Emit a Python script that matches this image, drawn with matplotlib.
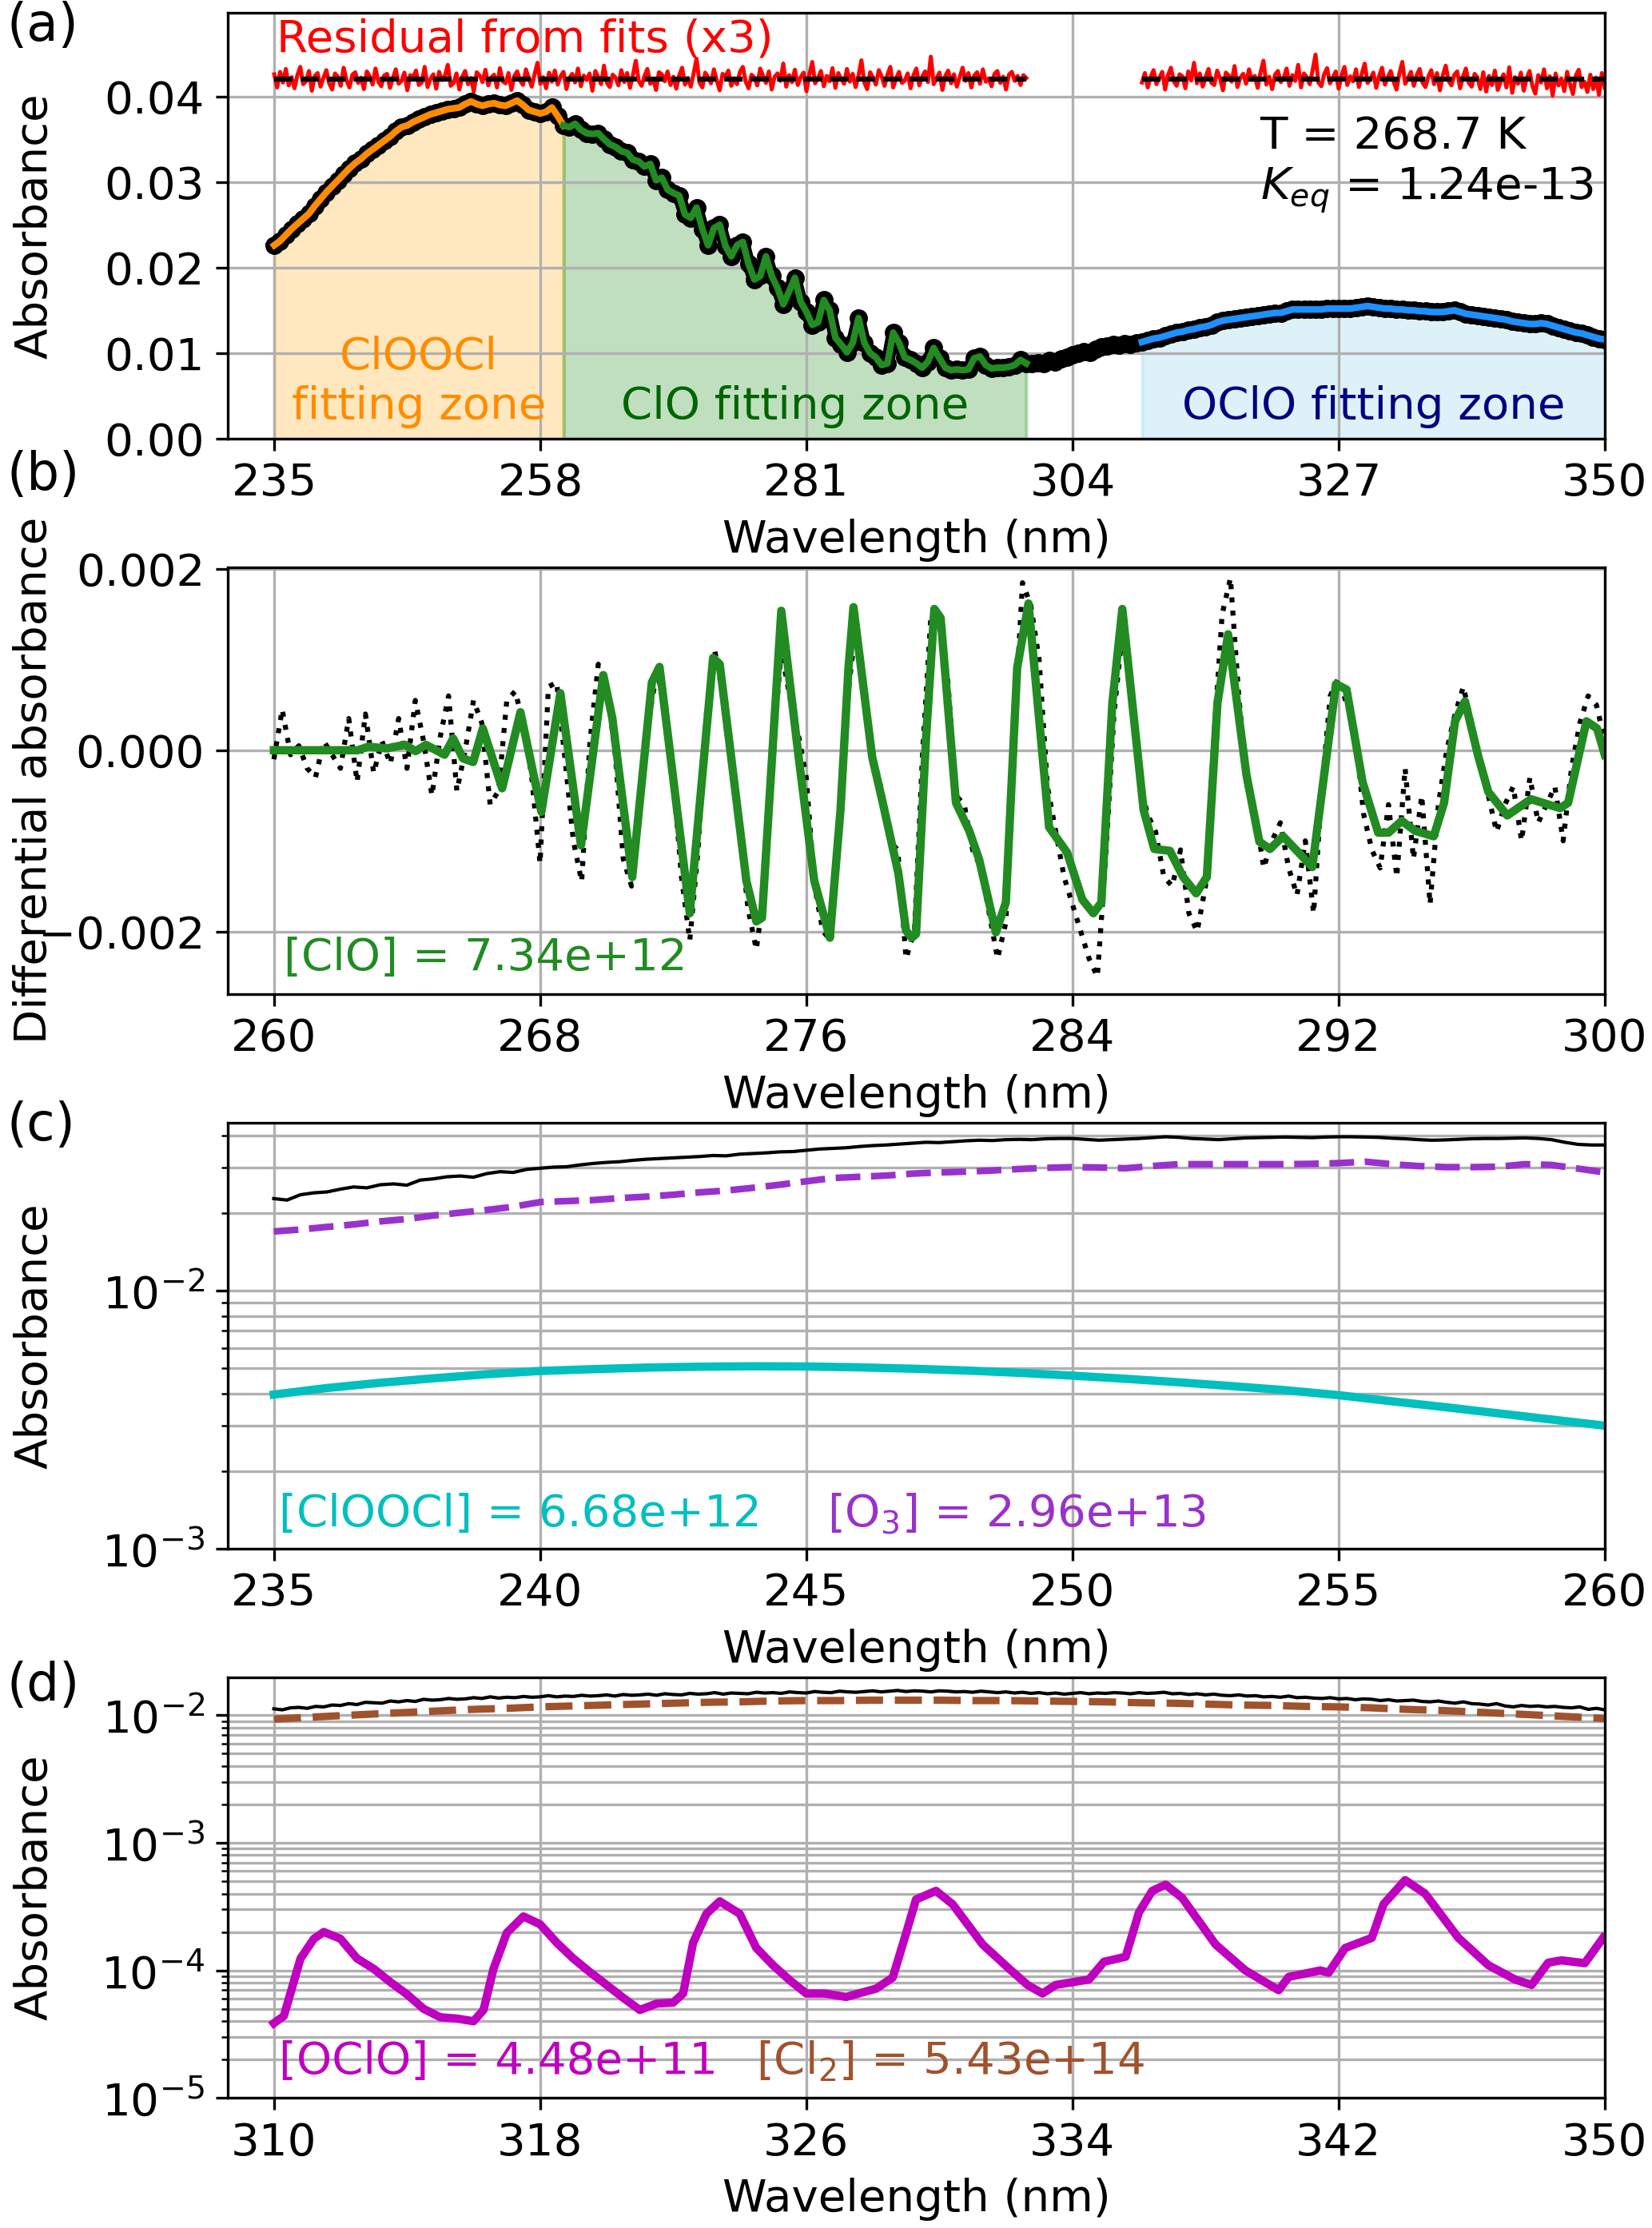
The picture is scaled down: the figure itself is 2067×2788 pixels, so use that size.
import numpy as np
import matplotlib
matplotlib.use("Agg")
from matplotlib import pyplot as plt

# ---------------- (a) total absorbance, 235-350 nm every 0.5 nm (x1e-5)
abs_total = [
    # 235 - 260 nm (ClOOCl zone)
    2260, 2310, 2380, 2450, 2510, 2570, 2630, 2720, 2800, 2880,
    2950, 3020, 3090, 3160, 3220, 3270, 3330, 3380, 3430, 3480,
    3530, 3590, 3640, 3660, 3700, 3730, 3760, 3790, 3810, 3830,
    3850, 3860, 3870, 3910, 3940, 3910, 3890, 3910, 3920, 3900,
    3890, 3920, 3950, 3900, 3840, 3820, 3800, 3820, 3870, 3770, 3660,
    # 260.5 - 300 nm (ClO zone)
    3640, 3680, 3610, 3570, 3560, 3570, 3500, 3440, 3410, 3360,
    3340, 3260, 3240, 3180, 3210, 3020, 3050, 2910, 2870, 2840,
    2620, 2580, 2700, 2450, 2260, 2460, 2500, 2250, 2130, 2260,
    2300, 2040, 1860, 1900, 2130, 1900, 1760, 1570, 1720, 1880,
    1600, 1480, 1330, 1360, 1620, 1500, 1180, 1100, 1010, 1120,
    1410, 1120, 1000, 950, 860, 880, 1240, 1120, 950, 920,
    880, 830, 900, 1060, 940, 830, 800, 810, 800, 810,
    940, 960, 860, 820, 830, 830, 840, 860, 920, 880,
    # 300.5 - 350 nm (OClO zone)
    880, 890, 880, 910, 900, 930, 950, 980, 1000, 1020,
    1010, 1050, 1070, 1080, 1100, 1090, 1110, 1100, 1120, 1130,
    1150, 1170, 1180, 1200, 1220, 1240, 1250, 1270, 1280, 1300,
    1310, 1330, 1360, 1380, 1390, 1400, 1410, 1420, 1430, 1440,
    1450, 1460, 1470, 1470, 1490, 1510, 1510, 1510, 1510, 1510,
    1510, 1520, 1520, 1520, 1520, 1520, 1530, 1540, 1550, 1540,
    1530, 1520, 1520, 1510, 1510, 1500, 1500, 1490, 1490, 1480,
    1480, 1480, 1490, 1500, 1480, 1460, 1450, 1440, 1430, 1420,
    1410, 1400, 1390, 1370, 1360, 1350, 1340, 1340, 1350, 1340,
    1320, 1300, 1280, 1260, 1240, 1230, 1210, 1190, 1170, 1160,
]

# fit residuals (units of 1.6e-5), every 0.25 nm, 235-300 nm and 310-350 nm
resid_short = [
    12, -20, 18, -8, 25, -15, 5, -22, 10, 30, -12, -5, 20, -28, 8, 15, -18, 3, 22, -10,
    -25, 14, 6, -16, 28, -3, -20, 11, 17, -9, 4, -24, 19, 7, -13, 26, -6, -17, 9, 13,
    -21, 2, 24, -11, -4, 16, -27, 10, 5, 21, -14, -8, 30, -19, 1, 12, -23, 18, -2, 8,
    35, -16, -9, 14, -25, 6, 20, -12, 3, -30, 17, 9, -7, 23, -15, 4, 11, -20, 27, -5,
    -10, 15, -26, 8, 19, -3, -14, 24, 2, -18, 12, 40, -11, 5, -22, 16, -6, 21, -13, 7,
    18, -24, 3, 13, -8, 26, -17, 9, -2, 14, -28, 20, 6, -12, 33, -9, -19, 11, 4, -15,
    22, -7, 15, -21, 10, 45, -4, -16, 8, 25, -11, 1, -26, 17, 12, -5, 19, -14, 6, -23,
    9, 28, -13, 3, -18, 14, 50, -8, -20, 16, 5, -10, 24, -3, -27, 13, 7, 21, -16, 2,
    -12, 18, 30, -6, -22, 11, 4, -15, 26, 8, -9, 19, -25, 6, 14, -4, 38, -18, 10, -7,
    23, -14, 5, 16, -29, 12, 42, -10, 3, 20, -17, 8, -5, 27, -21, 15, 1, -11, 25, -6,
    13, -19, 9, 46, -8, -24, 17, 4, -13, 22, 7, -16, 11, 30, -20, 2, 18, -9, -3, 14,
    -22, 10, 26, -15, 6, 19, -7, 55, -12, 3, 16, -26, 8, 21, -10, 12, -18, 5, 28, -4,
    15, -20, 9, 17, -11, 24, -6, 2, -17, 13, 20, -9, 6, -25, 11, 18, -4, 8, -14, 10, 3,
]
resid_long = [
    -8, 15, -20, 6, 22, -12, 3, 18, -25, 10, 28, -5, -16, 12, 7, -22, 19, -3, 40, -10,
    14, -18, 5, 25, -9, -14, 21, 2, -27, 16, 9, -6, 32, -19, 4, 13, -11, 24, -2, 8,
    -21, 17, 45, -13, 6, -24, 11, 20, -7, 3, 26, -16, 10, -4, 35, -20, 14, 5, -12, 22,
    60, -8, -17, 12, 27, -10, 4, 19, -23, 9, 30, -14, 7, -5, 24, -19, 13, 38, -9, 2,
    16, -21, 8, 28, -13, 5, 20, -6, -25, 14, 42, -11, 3, 18, -16, 10, 25, -8, -19, 6,
    22, -12, 15, -27, 9, 33, -4, -15, 11, 19, -22, 7, 26, -9, -18, 13, 4, -24, 17, -30,
    8, -14, 21, -26, -6, 12, -20, 29, -33, 5, -11, 16, -28, 3, 20, -17, -35, 10, -8, 24,
    -22, 7, -40, 14, -15, 2, -29, 18, -12, -36, 9, 23, -19, -6, -31, 11, -24, 4, -38, 15,
    -20,
]

# ---------------- (b) ClO differential absorbance (x1e-5)
clo_fit_wl = [
    260.0, 262.52, 262.84, 263.39, 263.94, 264.26, 264.57, 265.13, 265.39, 265.68,
    265.99, 266.28, 266.86, 267.41, 268.04, 268.61, 269.23, 269.9, 270.17, 270.77,
    271.36, 271.59, 272.5, 273.2, 273.4, 274.2, 274.5, 274.67, 275.25, 275.77,
    276.24, 276.71, 277.03, 277.27, 277.42, 277.98, 278.3, 278.77, 279.0, 279.17,
    279.3, 279.6, 279.85, 280.04, 280.5, 280.9, 281.2, 281.7, 282.0, 282.34,
    282.68, 283.3, 283.84, 284.3, 284.63, 284.87, 285.2, 285.5, 286.14, 286.46,
    286.93, 287.33, 287.72, 288.04, 288.36, 288.68, 289.23, 289.62, 289.94, 290.33,
    290.8, 291.21, 291.5, 291.92, 292.24, 292.72, 293.19, 293.5, 293.9, 294.3,
    294.86, 295.17, 295.5, 295.8, 296.2, 296.5, 297.07, 297.78, 298.66, 298.9,
    299.45, 299.77, 300.0,
]
clo_fit = [
    0, 0, 4, 2, 6, -1, 6, -5, 13, -9,
    -13, 24, -42, 42, -68, 63, -105, 83, 36, -140,
    75, 92, -180, 102, 95, -144, -189, -185, 154, -7,
    -144, -207, -66, 91, 158, -7, -58, -136, -199, -207,
    -203, 13, 156, 146, -58, -89, -121, -201, -168, 91,
    162, -85, -113, -165, -180, -168, 52, 156, -66, -109,
    -111, -140, -158, -140, 52, 128, -27, -101, -109, -95,
    -113, -129, -46, 73, 67, -35, -91, -91, -78, -89,
    -95, -58, 32, 54, -7, -46, -72, -54, -64, -58,
    32, 24, -5,
]
# measured, every 0.25 nm from 260 to 300 nm
clo_meas = [
    -10, 45, -5, 5, -20, -30, 10, -5, -20, 35,
    -35, 40, -25, 10, -15, 35, -20, 55, 10, -50,
    15, 60, -45, 0, 55, 30, -60, -45, 55, 65,
    30, -30, -125, 70, 75, -10, -100, -145, 10, 95,
    70, 0, -120, -150, -50, 30, 85, 55, -30, -140,
    -210, -110, 40, 110, 60, -20, -90, -175, -220, -150,
    0, 110, 60, 20, -30, -150, -200, -210, -80, 60,
    140, 70, -20, -40, -100, -110, -230, -200, 0, 150,
    140, 80, -50, -60, -110, -130, -180, -230, -190, 20,
    185, 160, 100, -40, -90, -140, -170, -200, -230, -250,
    -120, 40, 130, 70, -30, -70, -90, -140, -150, -110,
    -180, -200, -150, 10, 150, 190, 60, -40, -70, -130,
    -100, -80, -130, -160, -100, -180, -40, 60, 80, 50,
    20, -70, -110, -130, -60, -140, -20, -120, -50, -170,
    -60, 0, 40, 70, 30, -10, -50, -90, -60, -40,
    -100, -30, -80, -60, -40, -100, -20, 30, 60, 50,
    10,
]

# ---------------- (c) 235-260 nm (x1e-5)
c_meas = [  # every 0.25 nm
    2280, 2250, 2360, 2400, 2420, 2480, 2530, 2510, 2580, 2600,
    2570, 2690, 2720, 2770, 2790, 2760, 2850, 2900, 2880, 2960,
    2990, 3020, 3030, 3080, 3120, 3150, 3170, 3210, 3240, 3260,
    3280, 3300, 3320, 3350, 3340, 3390, 3410, 3430, 3460, 3470,
    3510, 3550, 3570, 3590, 3630, 3660, 3680, 3710, 3740, 3770,
    3760, 3790, 3820, 3840, 3830, 3860, 3870, 3860, 3890, 3900,
    3900, 3870, 3840, 3860, 3880, 3900, 3930, 3960, 3940, 3900,
    3880, 3860, 3890, 3920, 3930, 3940, 3950, 3940, 3930, 3950,
    3960, 3960, 3950, 3940, 3910, 3890, 3860, 3840, 3850, 3870,
    3890, 3900, 3900, 3910, 3920, 3900, 3860, 3770, 3700, 3680,
    3680,
]
o3_fit = [  # every 0.5 nm
    1700, 1730, 1770, 1810, 1860, 1900, 1960, 2010, 2060, 2120,
    2210, 2230, 2250, 2290, 2320, 2360, 2410, 2450, 2510, 2580,
    2660, 2740, 2770, 2800, 2850, 2880, 2900, 2930, 2970, 3000,
    3020, 3010, 2990, 3050, 3100, 3100, 3100, 3100, 3100, 3110,
    3130, 3170, 3100, 3050, 3020, 3020, 3030, 3100, 3080, 2980,
    2880,
]
cloocl_fit = [  # every 1 nm
    396, 420, 440, 458, 475, 489, 497, 504, 508, 510,
    509, 505, 499, 491, 481, 469, 456, 442, 427, 412,
    394, 373, 354, 335, 317, 300,
]

# ---------------- (d) 310-350 nm
d_meas = [  # every 0.25 nm, x1e-5
    1120, 1100, 1140, 1150, 1130, 1170, 1160, 1200, 1190, 1230,
    1210, 1260, 1250, 1240, 1290, 1270, 1300, 1280, 1330, 1310,
    1320, 1350, 1330, 1340, 1370, 1350, 1390, 1360, 1380, 1370,
    1400, 1380, 1390, 1420, 1390, 1410, 1400, 1430, 1410, 1420,
    1440, 1410, 1450, 1430, 1440, 1460, 1430, 1470, 1450, 1440,
    1480, 1460, 1470, 1500, 1460, 1490, 1480, 1470, 1510, 1490,
    1500, 1480, 1520, 1500, 1490, 1530, 1510, 1500, 1540, 1520,
    1510, 1530, 1550, 1520, 1540, 1560, 1530, 1550, 1540, 1520,
    1550, 1540, 1520, 1530, 1510, 1540, 1520, 1500, 1520, 1490,
    1510, 1480, 1500, 1470, 1490, 1460, 1480, 1500, 1470, 1490,
    1480, 1500, 1490, 1470, 1500, 1480, 1490, 1510, 1470, 1480,
    1450, 1470, 1440, 1460, 1430, 1420, 1440, 1410, 1420, 1390,
    1400, 1380, 1410, 1370, 1380, 1360, 1350, 1370, 1340, 1350,
    1320, 1340, 1330, 1300, 1320, 1290, 1300, 1310, 1280, 1270,
    1290, 1260, 1240, 1270, 1230, 1220, 1200, 1230, 1180, 1160,
    1190, 1170, 1180, 1160, 1170, 1150, 1140, 1160, 1110, 1130,
    1100,
]
cl2_fit = [  # every 1 nm, x1e-5
    930, 960, 990, 1020, 1050, 1080, 1110, 1130, 1160, 1180,
    1200, 1220, 1240, 1260, 1270, 1290, 1300, 1300, 1310, 1310,
    1310, 1300, 1300, 1290, 1280, 1270, 1250, 1240, 1220, 1200,
    1190, 1170, 1160, 1140, 1110, 1090, 1060, 1030, 1000, 970,
    940,
]
oclo_wl = [
    310.0, 310.3, 310.8, 311.2, 311.5, 312.0, 312.5, 313.0, 313.5, 314.0,
    314.5, 315.0, 315.5, 316.0, 316.3, 316.6, 317.0, 317.5, 318.0, 318.5,
    319.0, 319.5, 320.0, 320.5, 321.0, 321.5, 322.0, 322.3, 322.6, 323.0,
    323.4, 324.0, 324.5, 325.0, 325.5, 326.0, 326.55, 327.2, 328.1, 328.6,
    329.0, 329.3, 329.9, 330.4, 331.3, 332.1, 332.65, 333.1, 333.5, 334.5,
    334.95, 335.6, 336.0, 336.4, 336.8, 337.3, 338.3, 339.2, 340.2, 340.5,
    341.45, 341.7, 342.2, 343.0, 343.35, 344.0, 344.6, 345.6, 346.5, 347.3,
    347.8, 348.3, 348.7, 349.4, 349.95,
]
oclo_fit = [  # x1e-6
    38.6, 44, 124, 177, 200, 177, 124, 103, 81, 65,
    50, 43, 42, 40, 49, 103, 197, 265, 230, 165,
    124, 97, 77, 61, 49, 55, 56, 66, 165, 278,
    348, 278, 150, 110, 84, 66, 66, 62, 72, 88,
    195, 360, 420, 330, 160, 103, 77, 66, 77, 85,
    117, 128, 285, 420, 470, 370, 160, 100, 70, 89,
    100, 96, 150, 180, 330, 510, 400, 180, 110, 85,
    77, 115, 120, 114, 180,
]

plt.rcParams["font.size"] = 13.5

fig = plt.figure(figsize=(2067 / 300, 2788 / 300), dpi=300)
left, width = 0.138, 0.8334
ax_a = fig.add_axes([left, 0.8031, width, 0.1913])
ax_b = fig.add_axes([left, 0.5539, width, 0.1915])
ax_c = fig.add_axes([left, 0.3049, width, 0.1913])
ax_d = fig.add_axes([left, 0.0583, width, 0.1889])

# ---- (a)
wl_a = np.linspace(235, 350, len(abs_total))
a = np.array(abs_total) * 1e-5
z1 = wl_a <= 260
z2 = (wl_a >= 260) & (wl_a <= 300)
z3 = wl_a >= 310
ax_a.fill_between(wl_a[z1], 0, a[z1], color="orange", alpha=0.25, lw=1)
ax_a.fill_between(wl_a[z2], 0, a[z2], color="green", alpha=0.25, lw=1)
ax_a.fill_between(wl_a[z3], 0, a[z3], color="skyblue", alpha=0.28, lw=1)
ax_a.plot(wl_a, a, "o-", color="k", ms=4.5, lw=4)
ax_a.plot(wl_a[z1], a[z1], color="darkorange", lw=2)
ax_a.plot(wl_a[z2], a[z2], color="forestgreen", lw=2)
ax_a.plot(wl_a[z3], a[z3], color="dodgerblue", lw=2)

res_off = 0.042
for lo, hi, r in ((235, 300, resid_short), (310, 350, resid_long)):
    w = np.linspace(lo, hi, len(r))
    ax_a.plot(w, res_off + 3 * np.array(r) * 1.6e-5, color="r", lw=1.2)
    ax_a.hlines(res_off, w[0], w[-1], colors="k", linestyles="--", lw=1.5)

ax_a.text(235.2, 0.0452, "Residual from fits (x3)", color="r")
ax_a.text(320.2, 0.0378, "T = 268.7 K\n$K_{eq}$ = 1.24e-13", va="top")
ax_a.text(247.5, 0.0012, "ClOOCl\nfitting zone", color="darkorange",
          ha="center", va="bottom", multialignment="center")
ax_a.text(280, 0.0012, "ClO fitting zone", color="darkgreen",
          ha="center", va="bottom")
ax_a.text(330, 0.0012, "OClO fitting zone", color="navy",
          ha="center", va="bottom")
ax_a.set_xlim(231, 350)
ax_a.set_ylim(0, 0.0498)
ax_a.set_xticks([235, 258, 281, 304, 327, 350])
ax_a.set_yticks([0, 0.01, 0.02, 0.03, 0.04])
ax_a.set_ylabel("Absorbance")

# ---- (b)
wl_b = np.linspace(260, 300, len(clo_meas))
ax_b.plot(wl_b, np.array(clo_meas) * 1e-5, ":", color="k", lw=1.5)
ax_b.plot(clo_fit_wl, np.array(clo_fit) * 1e-5, color="forestgreen", lw=2.5)
ax_b.text(260.3, -0.00253, "[ClO] = 7.34e+12", color="forestgreen",
          va="bottom")
ax_b.set_xlim(258.62, 300)
ax_b.set_ylim(-0.00269, 0.00202)
ax_b.set_xticks(np.arange(260, 301, 8))
ax_b.set_ylabel("Differential absorbance")

# ---- (c)
ax_c.set_yscale("log")
ax_c.plot(np.linspace(235, 260, len(c_meas)), np.array(c_meas) * 1e-5,
          color="k", lw=1)
ax_c.plot(np.linspace(235, 260, len(o3_fit)), np.array(o3_fit) * 1e-5,
          "--", color="darkorchid", lw=2)
ax_c.plot(np.linspace(235, 260, len(cloocl_fit)),
          np.array(cloocl_fit) * 1e-5, color="c", lw=2.5)
ax_c.text(235.1, 0.00112, "[ClOOCl] = 6.68e+12", color="c", va="bottom")
ax_c.text(245.4, 0.00112, "[O$_3$] = 2.96e+13", color="darkorchid",
          va="bottom")
ax_c.set_xlim(234.14, 260)
ax_c.set_ylim(1e-3, 0.045)
ax_c.set_xticks(np.arange(235, 261, 5))
ax_c.set_ylabel("Absorbance")

# ---- (d)
ax_d.set_yscale("log")
ax_d.plot(np.linspace(310, 350, len(d_meas)), np.array(d_meas) * 1e-5,
          color="k", lw=1)
ax_d.plot(np.linspace(310, 350, len(cl2_fit)), np.array(cl2_fit) * 1e-5,
          "--", color="sienna", lw=2.2)
ax_d.plot(oclo_wl, np.array(oclo_fit) * 1e-6, color="m", lw=2.5)
ax_d.text(310.15, 1.3e-5, "[OClO] = 4.48e+11", color="m", va="bottom")
ax_d.text(324.5, 1.3e-5, "[Cl$_2$] = 5.43e+14", color="sienna", va="bottom")
ax_d.set_xlim(308.62, 350)
ax_d.set_ylim(1e-5, 0.0198)
ax_d.set_xticks(np.arange(310, 351, 8))
ax_d.set_ylabel("Absorbance")

for ax in (ax_a, ax_b, ax_c, ax_d):
    ax.grid(True, which="major")
    ax.set_xlabel("Wavelength (nm)")
    ax.yaxis.set_label_coords(-0.125, 0.5)
for ax in (ax_c, ax_d):
    ax.grid(True, which="minor", axis="y")

for lab, y in (("(a)", 0.9995), ("(b)", 0.798), ("(c)", 0.506), ("(d)", 0.2547)):
    fig.text(0.004, y, lab, fontsize=15.5, va="top", ha="left")

fig.savefig("out.png", dpi=300)
